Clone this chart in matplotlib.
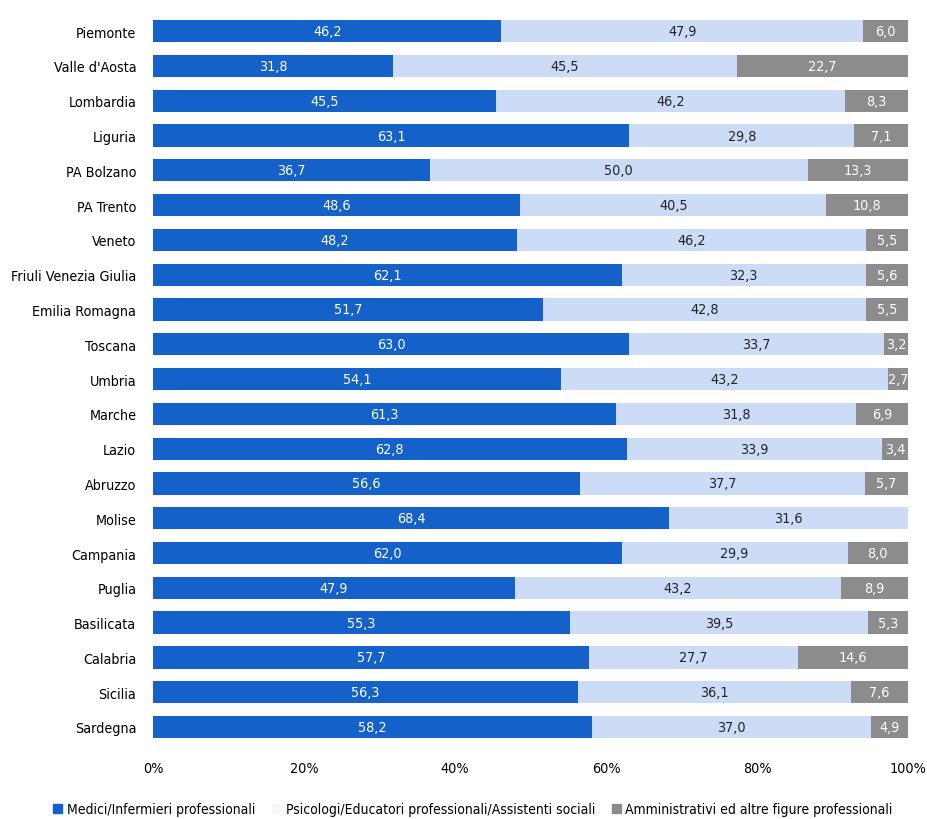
import matplotlib.pyplot as plt
from matplotlib import font_manager
from matplotlib.patches import Patch
import numpy as np

regioni = ["Piemonte", "Valle d'Aosta", "Lombardia", "Liguria", "PA Bolzano", "PA Trento",
           "Veneto", "Friuli Venezia Giulia", "Emilia Romagna", "Toscana", "Umbria", "Marche",
           "Lazio", "Abruzzo", "Molise", "Campania", "Puglia", "Basilicata", "Calabria",
           "Sicilia", "Sardegna"]
medici = [46.2, 31.8, 45.5, 63.1, 36.7, 48.6, 48.2, 62.1, 51.7, 63.0, 54.1, 61.3, 62.8,
          56.6, 68.4, 62.0, 47.9, 55.3, 57.7, 56.3, 58.2]
psicologi = [47.9, 45.5, 46.2, 29.8, 50.0, 40.5, 46.2, 32.3, 42.8, 33.7, 43.2, 31.8, 33.9,
             37.7, 31.6, 29.9, 43.2, 39.5, 27.7, 36.1, 37.0]
amministrativi = [6.0, 22.7, 8.3, 7.1, 13.3, 10.8, 5.5, 5.6, 5.5, 3.2, 2.7, 6.9, 3.4,
                  5.7, 0.0, 8.0, 8.9, 5.3, 14.6, 7.6, 4.9]
serie = ["Medici/Infermieri professionali",
         "Psicologi/Educatori professionali/Assistenti sociali",
         "Amministrativi ed altre figure professionali"]

# cerca un font stretto installato (simile ad Arial Narrow)
stretti = [f for f in font_manager.fontManager.ttflist
           if ("Narrow" in f.name or "Condensed" in f.name or "Condensed" in f.fname)
           and "Bold" not in f.fname and "Oblique" not in f.fname and "Italic" not in f.fname]
if stretti:
    fp = font_manager.FontProperties(fname=stretti[0].fname)
else:
    fp = font_manager.FontProperties(family="DejaVu Sans")

col_blu = "#1461c9"
col_chiaro = "#cddcf6"
col_grigio = "#8c8c8c"

fig = plt.figure(figsize=(9.27, 8.2), dpi=100)
ax = fig.add_axes([0.165, 0.091, 0.8145, 0.891])

y = np.arange(len(regioni))
med = np.array(medici)
psi = np.array(psicologi)
amm = np.array(amministrativi)
tot = med + psi + amm
m_p = med / tot
p_p = psi / tot
a_p = amm / tot

h = 0.64
ax.barh(y, m_p, height=h, color=col_blu)
ax.barh(y, p_p, left=m_p, height=h, color=col_chiaro)
ax.barh(y, a_p, left=m_p + p_p, height=h, color=col_grigio)

def fmt(v):
    return f"{v:.1f}".replace(".", ",")

fs = 10.3
for i in range(len(regioni)):
    ax.text(m_p[i] / 2, y[i], fmt(medici[i]), ha="center", va="center", color="white",
            fontproperties=fp, fontsize=fs)
    ax.text(m_p[i] + p_p[i] / 2, y[i], fmt(psicologi[i]), ha="center", va="center", color="#222222",
            fontproperties=fp, fontsize=fs)
    if amministrativi[i] > 0:
        ax.text(m_p[i] + p_p[i] + a_p[i] / 2, y[i], fmt(amministrativi[i]), ha="center", va="center",
                color="white", fontproperties=fp, fontsize=fs)

ax.set_ylim(len(regioni) - 0.5, -0.5)
ax.set_xlim(0, 1)
ax.set_yticks(y)
ax.set_yticklabels(regioni, fontproperties=fp, fontsize=fs)
ax.set_xticks(np.linspace(0, 1, 6))
ax.set_xticklabels([f"{int(t)}%" for t in np.linspace(0, 100, 6)], fontproperties=fp, fontsize=fs)
ax.tick_params(axis="y", length=0, pad=12)
ax.tick_params(axis="x", length=0, pad=12)
for s in ax.spines.values():
    s.set_visible(False)

handles = [Patch(color=col_blu), Patch(color="#f4f7fd"), Patch(color=col_grigio)]
leg_fp = fp.copy()
leg_fp.set_size(10)
fig.legend(handles, serie, loc="lower center", bbox_to_anchor=(0.51, -0.012), ncol=3, frameon=False,
           prop=leg_fp, handlelength=0.7, handleheight=0.7, handletextpad=0.3, columnspacing=1.2)

fig.savefig("out.png")
